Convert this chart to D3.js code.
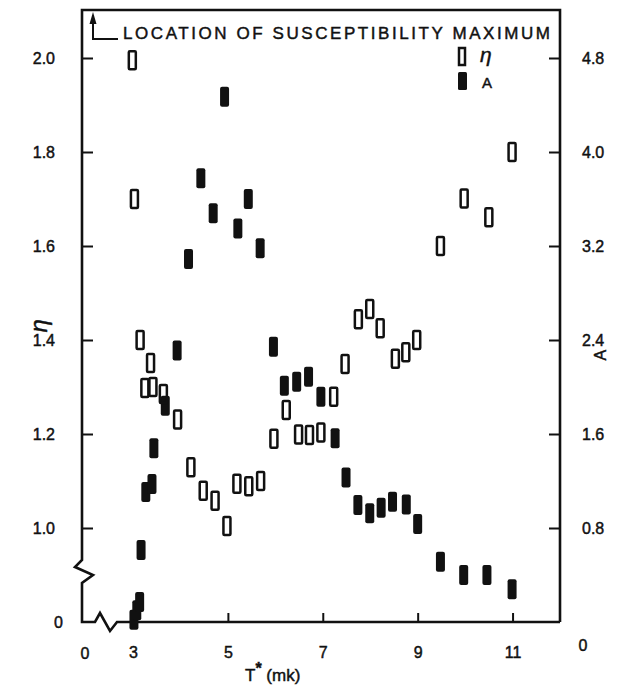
<!DOCTYPE html>
<html>
<head>
<meta charset="utf-8">
<script src="https://cdn.jsdelivr.net/npm/d3@7"></script>
<style>
  body { margin: 0; background: #fff; }
  text { font-family: "Liberation Sans", Arial, sans-serif; fill: #111; stroke: #111; stroke-width: 0.45px; }
</style>
</head>
<body>
<div id="chart"></div>
<script>
// eta (open markers): temperature T* (mk) and value
var etaT = [2.96, 3.03, 3.15, 3.37, 3.25, 3.42, 3.64, 3.94, 4.22, 4.48, 4.73, 4.98,
  5.19, 5.44, 5.69, 5.97, 6.23, 6.49, 6.72, 6.96, 7.23, 7.47, 7.75, 7.99, 8.21,
  8.53, 8.75, 8.98, 9.48, 9.98, 10.5, 10.99];
var etaVal = [1.995, 1.70, 1.40, 1.351, 1.298, 1.30, 1.285, 1.231, 1.129, 1.079, 1.058, 1.004,
  1.094, 1.089, 1.10, 1.19, 1.251, 1.199, 1.198, 1.203, 1.279, 1.349, 1.444, 1.466, 1.425,
  1.36, 1.374, 1.40, 1.60, 1.701, 1.661, 1.80];

// A (filled markers)
var aT = [3.02, 3.08, 3.14, 3.17, 3.27, 3.40, 3.44, 3.68, 3.93, 4.17, 4.43, 4.69, 4.93,
  5.21, 5.43, 5.68, 5.96, 6.19, 6.45, 6.70, 6.96, 7.26, 7.49, 7.74, 7.99, 8.23,
  8.47, 8.76, 9.0, 9.48, 9.97, 10.46, 10.99];
var aVal = [0.02, 0.10, 0.17, 0.613, 1.106, 1.174, 1.478, 1.84, 2.31, 3.09, 3.776, 3.478, 4.47,
  3.35, 3.60, 3.18, 2.343, 2.01, 2.045, 2.088, 1.917, 1.563, 1.23, 0.996, 0.925, 0.973,
  1.024, 1.0, 0.834, 0.513, 0.40, 0.40, 0.278];

// tick values
var xTicks = [3, 5, 7, 9, 11];
var etaTicks = [1.0, 1.2, 1.4, 1.6, 1.8, 2.0];
var aTicks = [0.8, 1.6, 2.4, 3.2, 4.0, 4.8];

var w = 626, h = 685;
// frame edges (note: "top" is reserved on window, so prefix them)
var fLeft = 82, fRight = 560, fTop = 10, fBottom = 622;

// broken x axis: 0 at the frame, then 3..12
var x = d3.scaleLinear().domain([0, 3, 12]).range([fLeft, 133, fRight]);
// eta axis is broken, bottom of frame sits at 0.8 and is labelled 0
var yEta = d3.scaleLinear().domain([0.8, 2.0]).range([fBottom, 58]);
var yA = d3.scaleLinear().domain([0, 4.8]).range([fBottom, 58]);

var svg = d3.select("#chart").append("svg")
  .attr("width", w)
  .attr("height", h);

var ink = "#111";

// frame with axis breaks
var frame = d3.line();
svg.append("path")
  .attr("d", frame([
    [fRight, fBottom], [117, fBottom], [110, fBottom + 9], [100, fBottom - 9], [95, fBottom], [fLeft, fBottom],
    [fLeft, 583], [93, 575], [75, 567], [fLeft, 560], [fLeft, fTop], [fRight, fTop], [fRight, fBottom]
  ]))
  .attr("fill", "none")
  .attr("stroke", ink)
  .attr("stroke-width", 2.6)
  .attr("stroke-linejoin", "miter");

// axes (ticks point inward)
var xAxis = svg.append("g")
  .attr("transform", "translate(0," + fBottom + ")")
  .call(d3.axisBottom(x).tickValues(xTicks).tickSize(-9).tickPadding(25).tickFormat(d3.format("d")));

var etaAxis = svg.append("g")
  .attr("transform", "translate(" + fLeft + ",0)")
  .call(d3.axisLeft(yEta).tickValues(etaTicks).tickSize(-11).tickPadding(27).tickFormat(d3.format(".1f")));

var aAxis = svg.append("g")
  .attr("transform", "translate(" + fRight + ",0)")
  .call(d3.axisRight(yA).tickValues(aTicks).tickSize(-11).tickPadding(22).tickFormat(d3.format(".1f")));

[xAxis, etaAxis, aAxis].forEach(function(g) {
  g.select(".domain").remove();
  g.selectAll(".tick line").attr("stroke", ink).attr("stroke-width", 2);
  g.selectAll(".tick text")
    .attr("font-size", 16)
    .attr("font-family", "Liberation Sans, Arial, sans-serif")
    .attr("fill", ink);
});

// zero labels at the broken origin
svg.append("text").attr("x", x(0) + 3).attr("y", 659).attr("text-anchor", "middle").attr("font-size", 16).text("0");
svg.append("text").attr("x", fLeft - 19).attr("y", yEta(0.8) + 6).attr("text-anchor", "end").attr("font-size", 16).text("0");
svg.append("text").attr("x", fRight + 23).attr("y", yA(0) + 29).attr("text-anchor", "middle").attr("font-size", 16).text("0");

// axis titles
svg.append("text")
  .attr("transform", "translate(47," + yEta(1.43) + ") rotate(-90)")
  .attr("text-anchor", "middle")
  .attr("font-family", "DejaVu Serif, serif")
  .attr("font-style", "italic")
  .attr("font-size", 24)
  .text("η");

svg.append("text")
  .attr("transform", "translate(606," + yA(2.27) + ") rotate(-90)")
  .attr("text-anchor", "middle")
  .attr("font-size", 16)
  .text("A");

var xLabel = svg.append("text")
  .attr("x", 245)
  .attr("y", 681)
  .attr("font-size", 17);
xLabel.append("tspan").text("T");
xLabel.append("tspan").attr("dy", -7).attr("font-size", 16).attr("font-weight", "bold").text("*");
xLabel.append("tspan").attr("dy", 7).text(" (mk)");

// annotation arrow and caption
svg.append("path")
  .attr("d", "M118,39 L93,39 L93,20")
  .attr("fill", "none")
  .attr("stroke", ink)
  .attr("stroke-width", 2);
svg.append("path")
  .attr("d", "M89.5,24 L93,12 L96.5,24 Z")
  .attr("fill", ink);

svg.append("text")
  .attr("x", 123)
  .attr("y", 39)
  .attr("font-size", 17)
  .attr("textLength", 427)
  .attr("lengthAdjust", "spacing")
  .text("LOCATION OF SUSCEPTIBILITY MAXIMUM");

// markers
var etaData = etaT.map(function(t, i) { return {t: t, v: etaVal[i]}; });
var aData = aT.map(function(t, i) { return {t: t, v: aVal[i]}; });

svg.selectAll("rect.a")
  .data(aData)
  .enter()
  .append("rect")
  .attr("class", "a")
  .attr("x", function(d) { return x(d.t) - 4.5; })
  .attr("y", function(d) { return yA(d.v) - 10; })
  .attr("width", 9)
  .attr("height", 20)
  .attr("rx", 2)
  .attr("fill", ink);

svg.selectAll("rect.eta")
  .data(etaData)
  .enter()
  .append("rect")
  .attr("class", "eta")
  .attr("x", function(d) { return x(d.t) - 3.5; })
  .attr("y", function(d) { return yEta(d.v) - 9; })
  .attr("width", 7)
  .attr("height", 18)
  .attr("rx", 1)
  .attr("fill", "none")
  .attr("stroke", ink)
  .attr("stroke-width", 2.5);

// legend
svg.append("rect").attr("x", 459).attr("y", 48).attr("width", 6).attr("height", 17)
  .attr("fill", "none").attr("stroke", ink).attr("stroke-width", 2.5);
svg.append("text").attr("x", 480).attr("y", 62)
  .attr("font-family", "DejaVu Serif, serif").attr("font-style", "italic").attr("font-size", 21).text("η");
svg.append("rect").attr("x", 458).attr("y", 72).attr("width", 9).attr("height", 18).attr("rx", 1.5).attr("fill", ink);
svg.append("text").attr("x", 482).attr("y", 88).attr("font-size", 15).text("A");
</script>
</body>
</html>
